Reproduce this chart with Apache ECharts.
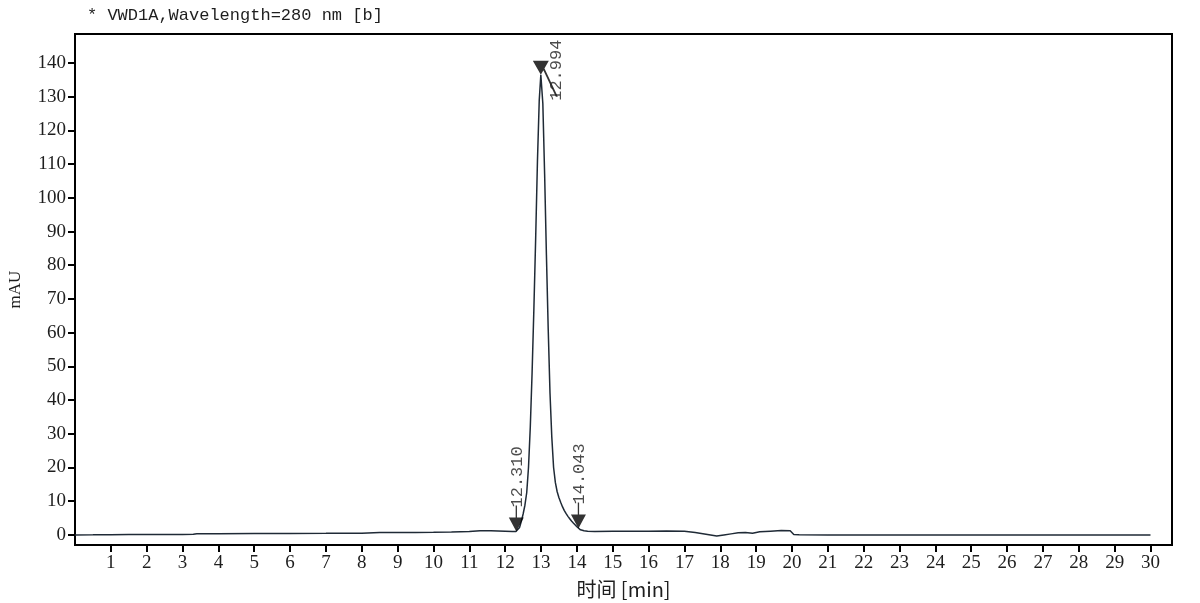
<!DOCTYPE html>
<html><head><meta charset="utf-8">
<script src="https://cdn.jsdelivr.net/npm/echarts@6/dist/echarts.min.js"></script>
<style>html,body{margin:0;padding:0;background:#fff}#c{width:1200px;height:603px}</style>
</head><body><div id="c"></div>
<script>
// retention time (min)
const timeMin = [0,0.5,1,1.5,2,2.5,3,3.3,3.4,4,5,6,7,8,8.5,9,9.5,10,10.5,11,11.3,11.6,12,12.2,12.3,
  12.35,12.40,12.45,12.50,12.55,12.60,12.65,12.70,12.75,12.80,12.85,12.90,12.95,12.994,13.05,13.10,13.15,13.20,13.25,13.30,13.35,13.40,13.45,13.50,13.55,13.60,13.65,13.70,13.75,13.80,13.85,13.90,13.95,14.00,14.043,14.10,14.20,14.30,
  14.5,15,15.5,16,16.5,17,17.3,17.6,17.9,18.1,18.3,18.5,18.7,18.9,19.1,19.4,19.7,19.95,20.05,20.2,21,25,30];
// detector signal (mAU)
const signalMAU = [0,0.02,0.05,0.08,0.1,0.12,0.15,0.2,0.35,0.35,0.4,0.42,0.45,0.5,0.7,0.7,0.7,0.75,0.85,1.0,1.2,1.2,1.1,1.0,1.0,
  1.3,2.2,4.0,6.2,8.8,12.5,20,32,48,67,88,111,129,136.5,128,107,83,61,42,29,20,15.5,12.8,11,9.6,8.3,7.2,6.3,5.5,4.8,4.1,3.5,3.0,2.4,1.9,1.5,1.2,1.05,
  1.0,1.05,1.1,1.1,1.15,1.05,0.7,0.2,-0.3,0.0,0.3,0.6,0.7,0.5,0.9,1.1,1.3,1.2,0.1,0.05,0.0,0.0,0.0];
// integrated peak events
const peakTimes = [12.310, 12.994, 14.043];
const peakHeights = [1.0, 136.5, 1.9];
// tick labels
const xTicks = Array.from({length:30},(_,i)=>i+1);
const yTicks = [0,10,20,30,40,50,60,70,80,90,100,110,120,130,140];

const chart = echarts.init(document.getElementById('c'));
const serif = 'Liberation Serif';
const mono = 'Liberation Mono';
const txt = '#1e1e1e';

const markerUp = 'path://M0,12 L16,12 L8,26 Z M7.3,0 L8.7,0 L8.7,12 L7.3,12 Z';
const markerDiag = 'path://M0,0 L16,0 L8,14 Z M7,2 L9,2 L25,36 L23,36 Z';

chart.setOption({
  animation:false,
  backgroundColor:'#fff',
  title:{text:'* VWD1A,Wavelength=280 nm [b]', left:82, top:2,
    textStyle:{fontFamily:mono, fontSize:17, fontWeight:'normal', color:txt}},
  grid:{left:75, right:28, top:34, bottom:58, outerBoundsMode:'none', containLabel:false,
    show:true, borderColor:'#000', borderWidth:2, backgroundColor:'transparent'},
  xAxis:{type:'value', min:0, max:30.6,
    name:'时间 [min]', nameLocation:'middle', nameGap:34,
    nameTextStyle:{fontFamily:'Noto Sans CJK SC', fontSize:20, color:txt},
    axisLine:{show:true, onZero:false, lineStyle:{color:'#000', width:2}},
    axisTick:{show:true, customValues:xTicks, length:7, lineStyle:{color:'#000', width:2}},
    axisLabel:{customValues:xTicks, fontFamily:serif, fontSize:19, color:txt, margin:9},
    splitLine:{show:false}},
  yAxis:{type:'value', min:-3, max:148.6,
    name:'mAU', nameLocation:'middle', nameGap:51, nameRotate:90,
    nameTextStyle:{fontFamily:serif, fontSize:17, color:txt},
    axisLine:{show:true, onZero:false, lineStyle:{color:'#000', width:2}},
    axisTick:{show:true, customValues:yTicks, length:7, lineStyle:{color:'#000', width:2}},
    axisLabel:{customValues:yTicks, fontFamily:serif, fontSize:19, color:txt, margin:9},
    splitLine:{show:false}},
  series:[
    {type:'line', data:timeMin.map((t,i)=>[t, signalMAU[i]]), showSymbol:false, symbol:'none',
      lineStyle:{color:'#1f2a36', width:1.5}, z:2},
    {type:'scatter', data:peakTimes.map((t,i)=>i===1
        ? {value:[t, peakHeights[i]], symbol:markerDiag, symbolSize:[25,36], symbolOffset:[4.5,4],
           label:{offset:[-42, 11]}}
        : {value:[t, peakHeights[i]], symbol:markerUp, symbolSize:[15,26], symbolOffset:[0,-13],
           label:{offset:[-4, 1]}}),
      itemStyle:{color:'#000'}, z:3,
      label:{show:true, position:'top', rotate:90, align:'left', verticalAlign:'middle', distance:2,
        formatter:p=>p.value[0].toFixed(3), fontFamily:mono, fontSize:17, color:txt}}
  ]
});
</script></body></html>
